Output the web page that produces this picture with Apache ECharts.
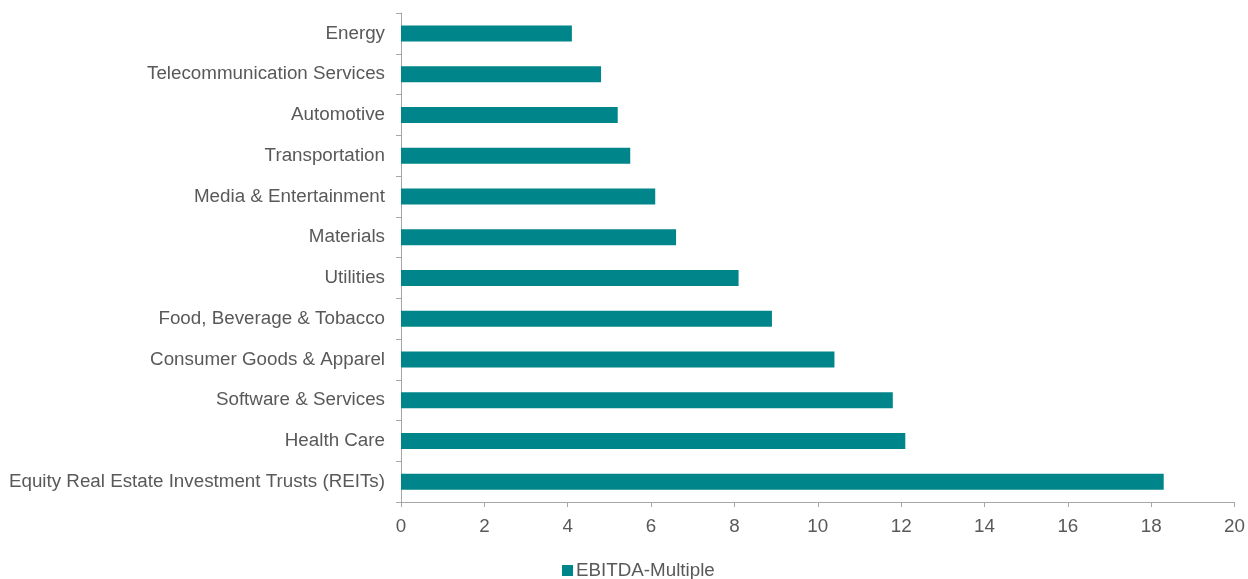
<!DOCTYPE html>
<html>
<head>
<meta charset="utf-8">
<script src="https://cdn.jsdelivr.net/npm/echarts@6/dist/echarts.min.js"></script>
<style>
  html, body { margin: 0; padding: 0; background: #fff; }
  #chart { width: 1248px; height: 579px; }
</style>
</head>
<body>
<div id="chart"></div>
<script>
// Sectors, top to bottom
const sectors = [
  'Energy',
  'Telecommunication Services',
  'Automotive',
  'Transportation',
  'Media & Entertainment',
  'Materials',
  'Utilities',
  'Food, Beverage & Tobacco',
  'Consumer Goods & Apparel',
  'Software & Services',
  'Health Care',
  'Equity Real Estate Investment Trusts (REITs)'
];
// EBITDA multiple per sector
const ebitdaMultiple = [4.1, 4.8, 5.2, 5.5, 6.1, 6.6, 8.1, 8.9, 10.4, 11.8, 12.1, 18.3];
const seriesName = 'EBITDA-Multiple';

const axisColor = '#a6a6a6';
const textColor = '#595959';
const barColor = '#00868a';
const font = 'Liberation Sans, Arial, sans-serif';
const fontSize = 18.8;

const chart = echarts.init(document.getElementById('chart'));
chart.setOption({
  animation: false,
  textStyle: { fontFamily: font },
  grid: { left: 401, right: 12, top: 13, bottom: 77, containLabel: false },
  legend: {
    data: [seriesName],
    left: 557,
    top: 556,
    itemWidth: 11,
    itemHeight: 11,
    itemGap: 4,
    icon: 'rect',
    textStyle: { color: textColor, fontSize: fontSize, fontFamily: font, padding: [0, 0, 0, -2] }
  },
  xAxis: {
    type: 'value',
    min: 0,
    max: 20,
    interval: 2,
    axisLine: { show: true, lineStyle: { color: axisColor, width: 1 } },
    axisTick: { show: true, length: 5, lineStyle: { color: axisColor } },
    axisLabel: { color: textColor, fontSize: fontSize, margin: 15, fontFamily: font },
    splitLine: { show: false }
  },
  yAxis: {
    type: 'category',
    inverse: true,
    data: sectors,
    axisLine: { show: true, lineStyle: { color: axisColor, width: 1 } },
    axisTick: { show: true, length: 5, alignWithLabel: false, lineStyle: { color: axisColor } },
    axisLabel: { color: textColor, fontSize: fontSize, margin: 16, fontFamily: font, padding: [5, 0, 0, 0] }
  },
  series: [{
    name: seriesName,
    type: 'bar',
    data: ebitdaMultiple,
    barWidth: 16,
    itemStyle: { color: barColor }
  }]
});
</script>
</body>
</html>
